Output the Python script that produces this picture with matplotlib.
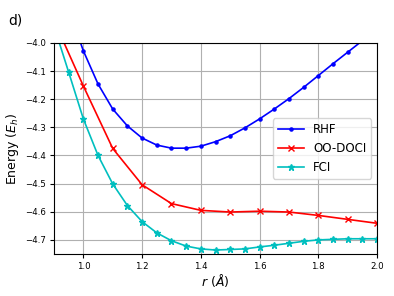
import matplotlib
matplotlib.use("Agg")
import matplotlib.pyplot as plt

r_rhf = [0.95, 1.0, 1.05, 1.1, 1.15, 1.2, 1.25, 1.3, 1.35, 1.4, 1.45, 1.5, 1.55, 1.6,
         1.65, 1.7, 1.75, 1.8, 1.85, 1.9, 1.95, 2.0]
e_rhf = [-3.88, -4.028, -4.146, -4.235, -4.295, -4.338, -4.363, -4.374, -4.374, -4.367,
         -4.351, -4.330, -4.302, -4.270, -4.235, -4.198, -4.158, -4.116, -4.074, -4.033,
         -3.992, -3.95]

r_doci = [0.9, 1.0, 1.1, 1.2, 1.3, 1.4, 1.5, 1.6, 1.7, 1.8, 1.9, 2.0]
e_doci = [-3.92, -4.153, -4.375, -4.504, -4.571, -4.595, -4.601, -4.598, -4.601, -4.613,
          -4.627, -4.641]

r_fci = [0.9, 0.95, 1.0, 1.05, 1.1, 1.15, 1.2, 1.25, 1.3, 1.35, 1.4, 1.45, 1.5, 1.55,
         1.6, 1.65, 1.7, 1.75, 1.8, 1.85, 1.9, 1.95, 2.0]
e_fci = [-3.94, -4.104, -4.270, -4.400, -4.501, -4.578, -4.635, -4.675, -4.703, -4.722,
         -4.732, -4.736, -4.734, -4.732, -4.725, -4.719, -4.712, -4.705, -4.700, -4.698,
         -4.696, -4.696, -4.696]

xticks = [1.0, 1.2, 1.4, 1.6, 1.8, 2.0]
yticks = [-4.0, -4.1, -4.2, -4.3, -4.4, -4.5, -4.6, -4.7]

fig = plt.figure(figsize=(3.94, 2.96), dpi=100)
ax = fig.add_axes([0.137, 0.142, 0.820, 0.713])

ax.plot(r_rhf, e_rhf, color='blue', marker='.', markersize=4.5, linewidth=1.2, label='RHF')
ax.plot(r_doci, e_doci, color='red', marker='x', markersize=4.5, linewidth=1.2, label='OO-DOCI')
ax.plot(r_fci, e_fci, color='c', marker='*', markersize=4.5, linewidth=1.2, label='FCI')

ax.set_xlim(0.9, 2.0)
ax.set_ylim(-4.75, -4.0)
ax.set_xticks(xticks)
ax.set_yticks(yticks)
ax.set_xticklabels([f"{t:.1f}" for t in xticks])
ax.set_yticklabels([f"\u2212{abs(t):.1f}" for t in yticks])
ax.tick_params(labelsize=6.2, length=3, pad=2.5)
ax.grid(True, color='#b0b0b0', linewidth=0.8)

ax.set_xlabel(r'$r\ (\AA)$', fontsize=9, labelpad=1)
ax.set_ylabel(r'Energy ($E_h$)', fontsize=9, labelpad=3)

ax.legend(loc='center right', fontsize=8.5, handlelength=2.2)

fig.text(0.02, 0.955, 'd)', fontsize=10, ha='left', va='top')

fig.savefig('out.png', dpi=100)
